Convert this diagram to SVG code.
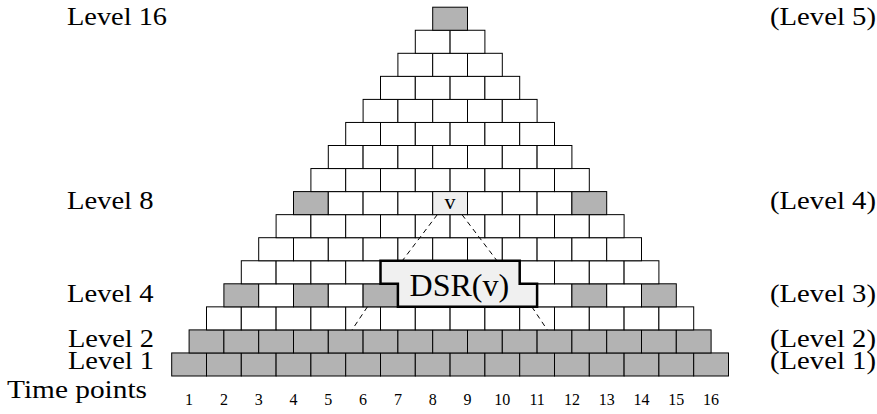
<svg xmlns="http://www.w3.org/2000/svg" xmlns:xlink="http://www.w3.org/1999/xlink" width="877" height="414" viewBox="0 0 877 414">
<style>
  .w{fill:#ffffff;stroke:#000;stroke-width:1}
  .g{fill:#b3b3b3;stroke:#000;stroke-width:1}
  .l{fill:#efefef;stroke:#000;stroke-width:1}
  text{font-family:"Liberation Serif","Times New Roman",serif;fill:#000}
  .lab{font-size:26px}
  .num{font-size:16px;text-anchor:middle}
  .dash{stroke:#000;stroke-width:1;stroke-dasharray:5 4;fill:none}
</style>
<defs>
  <rect id="b" width="34.8" height="23.05"/>
</defs>
<rect width="877" height="414" fill="#fff"/>

<g id="level1" transform="translate(171.7,352.95)">
  <use href="#b" class="g" x="0"/><use href="#b" class="g" x="34.8"/><use href="#b" class="g" x="69.6"/><use href="#b" class="g" x="104.4"/><use href="#b" class="g" x="139.2"/><use href="#b" class="g" x="174"/><use href="#b" class="g" x="208.8"/><use href="#b" class="g" x="243.6"/><use href="#b" class="g" x="278.4"/><use href="#b" class="g" x="313.2"/><use href="#b" class="g" x="348"/><use href="#b" class="g" x="382.8"/><use href="#b" class="g" x="417.6"/><use href="#b" class="g" x="452.4"/><use href="#b" class="g" x="487.2"/><use href="#b" class="g" x="522"/>
</g>
<g id="level2" transform="translate(189.1,329.9)">
  <use href="#b" class="g" x="0"/><use href="#b" class="g" x="34.8"/><use href="#b" class="g" x="69.6"/><use href="#b" class="g" x="104.4"/><use href="#b" class="g" x="139.2"/><use href="#b" class="g" x="174"/><use href="#b" class="g" x="208.8"/><use href="#b" class="g" x="243.6"/><use href="#b" class="g" x="278.4"/><use href="#b" class="g" x="313.2"/><use href="#b" class="g" x="348"/><use href="#b" class="g" x="382.8"/><use href="#b" class="g" x="417.6"/><use href="#b" class="g" x="452.4"/><use href="#b" class="g" x="487.2"/>
</g>
<g id="level3" transform="translate(206.5,306.85)">
  <use href="#b" class="w" x="0"/><use href="#b" class="w" x="34.8"/><use href="#b" class="w" x="69.6"/><use href="#b" class="w" x="104.4"/><use href="#b" class="w" x="139.2"/><use href="#b" class="w" x="174"/><use href="#b" class="w" x="208.8"/><use href="#b" class="w" x="243.6"/><use href="#b" class="w" x="278.4"/><use href="#b" class="w" x="313.2"/><use href="#b" class="w" x="348"/><use href="#b" class="w" x="382.8"/><use href="#b" class="w" x="417.6"/><use href="#b" class="w" x="452.4"/>
</g>
<g id="level4" transform="translate(223.9,283.8)">
  <use href="#b" class="g" x="0"/><use href="#b" class="w" x="34.8"/><use href="#b" class="g" x="69.6"/><use href="#b" class="w" x="104.4"/><use href="#b" class="g" x="139.2"/><use href="#b" class="w" x="174"/><use href="#b" class="g" x="208.8"/><use href="#b" class="w" x="243.6"/><use href="#b" class="g" x="278.4"/><use href="#b" class="w" x="313.2"/><use href="#b" class="g" x="348"/><use href="#b" class="w" x="382.8"/><use href="#b" class="g" x="417.6"/>
</g>
<g id="level5" transform="translate(241.3,260.75)">
  <use href="#b" class="w" x="0"/><use href="#b" class="w" x="34.8"/><use href="#b" class="w" x="69.6"/><use href="#b" class="w" x="104.4"/><use href="#b" class="w" x="139.2"/><use href="#b" class="w" x="174"/><use href="#b" class="w" x="208.8"/><use href="#b" class="w" x="243.6"/><use href="#b" class="w" x="278.4"/><use href="#b" class="w" x="313.2"/><use href="#b" class="w" x="348"/><use href="#b" class="w" x="382.8"/>
</g>
<g id="level6" transform="translate(258.7,237.7)">
  <use href="#b" class="w" x="0"/><use href="#b" class="w" x="34.8"/><use href="#b" class="w" x="69.6"/><use href="#b" class="w" x="104.4"/><use href="#b" class="w" x="139.2"/><use href="#b" class="w" x="174"/><use href="#b" class="w" x="208.8"/><use href="#b" class="w" x="243.6"/><use href="#b" class="w" x="278.4"/><use href="#b" class="w" x="313.2"/><use href="#b" class="w" x="348"/>
</g>
<g id="level7" transform="translate(276.1,214.65)">
  <use href="#b" class="w" x="0"/><use href="#b" class="w" x="34.8"/><use href="#b" class="w" x="69.6"/><use href="#b" class="w" x="104.4"/><use href="#b" class="w" x="139.2"/><use href="#b" class="w" x="174"/><use href="#b" class="w" x="208.8"/><use href="#b" class="w" x="243.6"/><use href="#b" class="w" x="278.4"/><use href="#b" class="w" x="313.2"/>
</g>
<g id="level8" transform="translate(293.5,191.6)">
  <use href="#b" class="g" x="0"/><use href="#b" class="w" x="34.8"/><use href="#b" class="w" x="69.6"/><use href="#b" class="w" x="104.4"/><use href="#b" class="w" x="174"/><use href="#b" class="w" x="208.8"/><use href="#b" class="w" x="243.6"/><use href="#b" class="g" x="278.4"/>
</g>
<g id="level9" transform="translate(310.9,168.55)">
  <use href="#b" class="w" x="0"/><use href="#b" class="w" x="34.8"/><use href="#b" class="w" x="69.6"/><use href="#b" class="w" x="104.4"/><use href="#b" class="w" x="139.2"/><use href="#b" class="w" x="174"/><use href="#b" class="w" x="208.8"/><use href="#b" class="w" x="243.6"/>
</g>
<g id="level10" transform="translate(328.3,145.5)">
  <use href="#b" class="w" x="0"/><use href="#b" class="w" x="34.8"/><use href="#b" class="w" x="69.6"/><use href="#b" class="w" x="104.4"/><use href="#b" class="w" x="139.2"/><use href="#b" class="w" x="174"/><use href="#b" class="w" x="208.8"/>
</g>
<g id="level11" transform="translate(345.7,122.45)">
  <use href="#b" class="w" x="0"/><use href="#b" class="w" x="34.8"/><use href="#b" class="w" x="69.6"/><use href="#b" class="w" x="104.4"/><use href="#b" class="w" x="139.2"/><use href="#b" class="w" x="174"/>
</g>
<g id="level12" transform="translate(363.1,99.4)">
  <use href="#b" class="w" x="0"/><use href="#b" class="w" x="34.8"/><use href="#b" class="w" x="69.6"/><use href="#b" class="w" x="104.4"/><use href="#b" class="w" x="139.2"/>
</g>
<g id="level13" transform="translate(380.5,76.35)">
  <use href="#b" class="w" x="0"/><use href="#b" class="w" x="34.8"/><use href="#b" class="w" x="69.6"/><use href="#b" class="w" x="104.4"/>
</g>
<g id="level14" transform="translate(397.9,53.3)">
  <use href="#b" class="w" x="0"/><use href="#b" class="w" x="34.8"/><use href="#b" class="w" x="69.6"/>
</g>
<g id="level15" transform="translate(415.3,30.25)">
  <use href="#b" class="w" x="0"/><use href="#b" class="w" x="34.8"/>
</g>
<g id="level16" transform="translate(432.7,7.2)">
  <use href="#b" class="g" x="0"/>
</g>

<g id="connectors">
  <line class="dash" x1="437.3" y1="214.65" x2="402.3" y2="260.75"/>
  <line class="dash" x1="367.4" y1="306.85" x2="352" y2="329.9"/>
  <line class="dash" x1="462" y1="214.65" x2="497" y2="260.75"/>
  <line class="dash" x1="531.9" y1="306.85" x2="547.3" y2="329.9"/>
</g>

<g id="node-v">
  <use href="#b" class="l" x="432.7" y="191.6"/>
  <text x="450.1" y="208.5" text-anchor="middle" style="font-size:22px">v</text>
</g>

<g id="node-dsr">
  <polygon points="380.5,260.75 519.7,260.75 519.7,283.8 537.1,283.8 537.1,306.85 397.9,306.85 397.9,283.8 380.5,283.8" fill="#f0f0f0" stroke="#000" stroke-width="2.5" stroke-linejoin="miter"/>
  <text x="459.3" y="296" text-anchor="middle" style="font-size:32px">DSR(v)</text>
</g>

<g id="labels-left">
  <text class="lab" x="67" y="25" textLength="100" lengthAdjust="spacingAndGlyphs">Level 16</text>
  <text class="lab" x="67" y="209" textLength="86.5" lengthAdjust="spacingAndGlyphs">Level 8</text>
  <text class="lab" x="67" y="302" textLength="86.5" lengthAdjust="spacingAndGlyphs">Level 4</text>
  <text class="lab" x="68" y="346.5" textLength="86" lengthAdjust="spacingAndGlyphs">Level 2</text>
  <text class="lab" x="68" y="369" textLength="86" lengthAdjust="spacingAndGlyphs">Level 1</text>
  <text class="lab" x="7" y="398" textLength="140" lengthAdjust="spacingAndGlyphs">Time points</text>
</g>
<g id="labels-right">
  <text class="lab" x="770" y="25" textLength="106" lengthAdjust="spacingAndGlyphs">(Level 5)</text>
  <text class="lab" x="770" y="209" textLength="106" lengthAdjust="spacingAndGlyphs">(Level 4)</text>
  <text class="lab" x="770" y="302" textLength="106" lengthAdjust="spacingAndGlyphs">(Level 3)</text>
  <text class="lab" x="770" y="346.5" textLength="106" lengthAdjust="spacingAndGlyphs">(Level 2)</text>
  <text class="lab" x="770" y="369" textLength="106" lengthAdjust="spacingAndGlyphs">(Level 1)</text>
</g>
<g id="time-points">
  <text class="num" x="189.1" y="405">1</text>
  <text class="num" x="223.9" y="405">2</text>
  <text class="num" x="258.7" y="405">3</text>
  <text class="num" x="293.5" y="405">4</text>
  <text class="num" x="328.3" y="405">5</text>
  <text class="num" x="363.1" y="405">6</text>
  <text class="num" x="397.9" y="405">7</text>
  <text class="num" x="432.7" y="405">8</text>
  <text class="num" x="467.5" y="405">9</text>
  <text class="num" x="502.3" y="405">10</text>
  <text class="num" x="537.1" y="405">11</text>
  <text class="num" x="571.9" y="405">12</text>
  <text class="num" x="606.7" y="405">13</text>
  <text class="num" x="641.5" y="405">14</text>
  <text class="num" x="676.3" y="405">15</text>
  <text class="num" x="711.1" y="405">16</text>
</g>
</svg>
